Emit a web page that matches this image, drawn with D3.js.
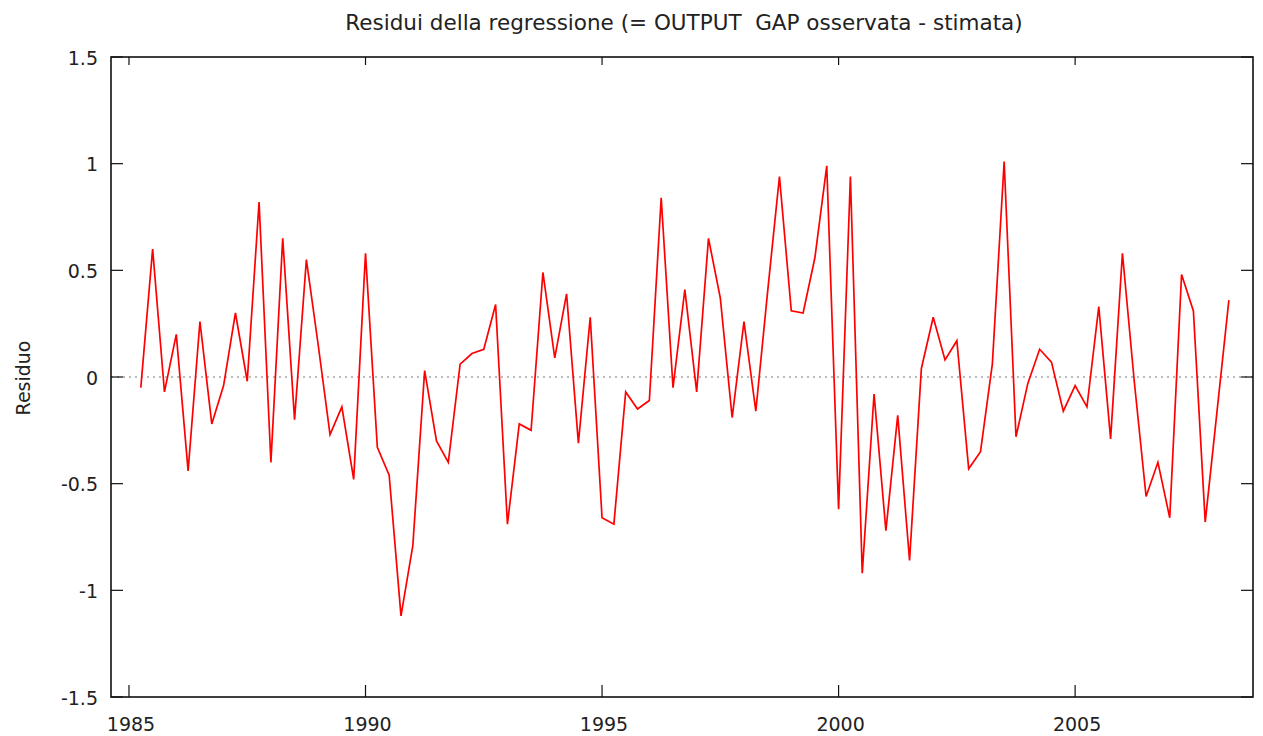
<!DOCTYPE html>
<html>
<head>
<meta charset="utf-8">
<title>Residui della regressione</title>
<style>
body { margin: 0; background: #fff; }
text { font-family: "DejaVu Sans", sans-serif; fill: #222; }
.frame { fill: none; stroke: #111; stroke-width: 1.6; }
.tick { stroke: #111; stroke-width: 1.2; }
.zero { stroke: #777; stroke-width: 1; stroke-dasharray: 2,4; }
.resid { fill: none; stroke: #f00; stroke-width: 1.7; stroke-linejoin: miter; }
</style>
</head>
<body>
<svg width="1263" height="736"></svg>
<script src="https://cdn.jsdelivr.net/npm/d3@7"></script>
<script>

// quarterly residuals, 1985:2 - 2008:2
var startYear = 1985, startQuarter = 2;
var residui = [
  -0.05, 0.60, -0.07,
  0.20, -0.44, 0.26, -0.22,
  -0.04, 0.30, -0.02, 0.82,
  -0.40, 0.65, -0.20, 0.55,
  0.15, -0.27, -0.14, -0.48,
  0.58, -0.33, -0.46, -1.12,
  -0.79, 0.03, -0.30, -0.40,
  0.06, 0.11, 0.13, 0.34,
  -0.69, -0.22, -0.25, 0.49,
  0.09, 0.39, -0.31, 0.28,
  -0.66, -0.69, -0.07, -0.15,
  -0.11, 0.84, -0.05, 0.41,
  -0.07, 0.65, 0.37, -0.19,
  0.26, -0.16, 0.40, 0.94,
  0.31, 0.30, 0.56, 0.99,
  -0.62, 0.94, -0.92, -0.08,
  -0.72, -0.18, -0.86, 0.04,
  0.28, 0.08, 0.17, -0.43,
  -0.35, 0.06, 1.01, -0.28,
  -0.03, 0.13, 0.07, -0.16,
  -0.04, -0.14, 0.33, -0.29,
  0.58, -0.02, -0.56, -0.40,
  -0.66, 0.48, 0.31, -0.68,
  -0.16, 0.36
];
var xTicks = [1985, 1990, 1995, 2000, 2005];
var yTicks = [-1.5, -1, -0.5, 0, 0.5, 1, 1.5];
var titolo = "Residui della regressione (= OUTPUT  GAP osservata - stimata)";
var yLabel = "Residuo";

var data = residui.map(function(v, i) {
  return { t: startYear + (startQuarter - 1) / 4 + i / 4, v: v };
});

var svg = d3.select("svg");
var pLeft = 111, pRight = 1253, pTop = 57, pBottom = 697;

var x = d3.scaleLinear().domain([1984.62, 2008.76]).range([pLeft, pRight]);
var y = d3.scaleLinear().domain([-1.5, 1.5]).range([pBottom, pTop]);

// zero line
svg.append("line").attr("class", "zero")
    .attr("x1", pLeft).attr("x2", pRight)
    .attr("y1", y(0)).attr("y2", y(0));

// series
var line = d3.line()
    .x(function(d) { return x(d.t); })
    .y(function(d) { return y(d.v); });

svg.append("path").datum(data)
    .attr("class", "resid")
    .attr("d", line);

// frame + gnuplot-like mirrored ticks
svg.append("rect").attr("class", "frame")
    .attr("x", pLeft).attr("y", pTop)
    .attr("width", pRight - pLeft).attr("height", pBottom - pTop);

xTicks.forEach(function(t) {
  svg.append("line").attr("class", "tick")
      .attr("x1", x(t)).attr("x2", x(t)).attr("y1", pBottom).attr("y2", pBottom - 12);
  svg.append("line").attr("class", "tick")
      .attr("x1", x(t)).attr("x2", x(t)).attr("y1", pTop).attr("y2", pTop + 8);
  svg.append("text")
      .attr("x", x(t) + 2).attr("y", 731)
      .attr("text-anchor", "middle")
      .style("font-size", "19px")
      .text(t);
});

yTicks.forEach(function(v) {
  svg.append("line").attr("class", "tick")
      .attr("x1", pLeft).attr("x2", pLeft + 12).attr("y1", y(v)).attr("y2", y(v));
  svg.append("line").attr("class", "tick")
      .attr("x1", pRight).attr("x2", pRight - 12).attr("y1", y(v)).attr("y2", y(v));
  svg.append("text")
      .attr("x", 98).attr("y", y(v))
      .attr("dy", "0.4em")
      .attr("text-anchor", "end")
      .style("font-size", "19px")
      .text(v);
});

svg.append("text")
    .attr("x", 684).attr("y", 30)
    .attr("text-anchor", "middle")
    .style("font-size", "21.5px")
    .style("white-space", "pre")
    .text(titolo);

svg.append("text")
    .attr("transform", "translate(30," + 378 + ") rotate(-90)")
    .attr("text-anchor", "middle")
    .style("font-size", "19px")
    .text(yLabel);

</script>
</body>
</html>
